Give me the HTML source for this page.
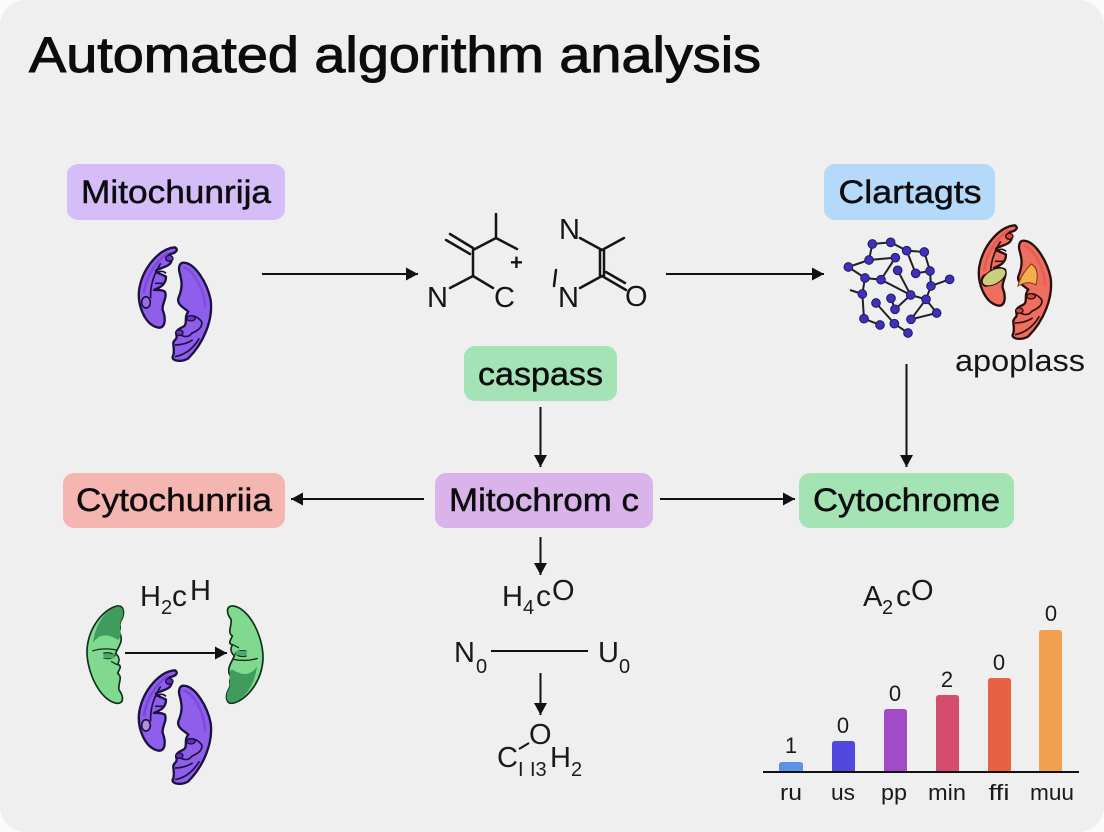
<!DOCTYPE html>
<html lang="en"><head><meta charset="utf-8"><title>Automated algorithm analysis</title>
<style>
html,body{margin:0;padding:0;width:1104px;height:832px;overflow:hidden;background:#fbfbfb}
svg{display:block}
text{font-family:"Liberation Sans",sans-serif;fill:#0c0c0f}
.b{font-size:32px;text-anchor:middle;stroke:#0c0c0f;stroke-width:.45px}
.f{font-size:29px;fill:#1a1a1a}
.c{font-size:30px;fill:#1a1a1a}
.s{font-size:20px;fill:#1a1a1a}
.v{font-size:22px;text-anchor:middle;fill:#1a1a1a}
.l{font-size:22px;text-anchor:middle;fill:#1a1a1a}
</style></head><body>
<svg width="1104" height="832" viewBox="0 0 1104 832" xmlns="http://www.w3.org/2000/svg">
<defs>
<marker id="a" viewBox="0 0 12 13" refX="12" refY="6.500" markerWidth="12" markerHeight="13" markerUnits="userSpaceOnUse" orient="auto"><path d="M0 0L12 6.500L0 13Z" fill="#111"/></marker>
<g id="mitoL" stroke-linejoin="round">
<path d="M165 52C120 55 70 110 58 175C50 225 75 285 115 293C137 295 138 265 128 240C125 220 142 205 135 185C125 178 110 180 102 180C120 172 138 165 138 140C125 132 110 130 108 122C120 112 152 112 155 90C150 82 135 85 150 72C165 70 178 60 165 52Z" fill="var(--m)" stroke="var(--k)" stroke-width="7"/>
<path d="M72 190C78 140 105 95 145 68" fill="none" stroke="var(--d)" stroke-width="8" opacity=".45"/>
<path d="M92 205C90 170 100 135 122 100M108 130Q125 118 138 130M105 160H132" fill="none" stroke="var(--k)" stroke-width="5"/>
<ellipse cx="78" cy="217" rx="13" ry="17" fill="var(--n)" stroke="var(--k)" stroke-width="5"/>
<ellipse cx="148" cy="85" rx="11" ry="9" fill="var(--d)" stroke="var(--k)" stroke-width="4"/>
<path d="M190 98C225 98 262 160 272 210C280 270 250 340 205 385C185 397 155 394 158 380C165 368 160 350 160 342C158 330 172 330 170 318C165 305 172 298 190 290C205 282 190 262 205 245C195 235 170 225 175 205C190 170 185 150 178 125C175 110 180 98 190 98Z" fill="var(--m)" stroke="var(--k)" stroke-width="7"/>
<path d="M190 112C225 122 254 185 256 235" fill="none" stroke="var(--d)" stroke-width="8" opacity=".4"/>
<path d="M200 262C215 250 235 262 245 275C250 295 225 305 215 310C205 325 190 320 175 312M165 345Q195 345 218 330M165 380Q210 372 238 325" fill="none" stroke="var(--k)" stroke-width="5"/>
<ellipse cx="213" cy="265" rx="13" ry="8" fill="var(--d)" stroke="var(--k)" stroke-width="4"/>
<ellipse cx="178" cy="308" rx="11" ry="8" fill="var(--d)" stroke="var(--k)" stroke-width="4"/>
</g>
<g id="green" stroke-linejoin="round">
<path d="M128 108C88 115 40 170 36 240C34 305 75 392 125 400C148 402 146 378 132 360C128 340 145 322 128 310C134 296 142 288 128 283C136 270 132 260 122 250C132 226 148 212 132 185C142 172 128 168 138 152C150 132 148 106 128 108Z" fill="#7fd98f" stroke="#10301a" stroke-width="5"/>
<path d="M128 110C92 118 62 160 54 218C78 185 105 195 130 210C146 190 128 172 138 152C150 132 146 108 128 110Z" fill="#3f9c5c"/>
<path d="M52 243Q85 232 125 240M85 250Q105 245 120 256Q110 270 85 264M128 285L108 274" fill="none" stroke="#10301a" stroke-width="4"/>
<path d="M85 252H118V265H85Z" fill="#4fa86a"/>
</g>
</defs>

<rect x="0" y="0" width="1104" height="832" rx="26" fill="#efefef"/>

<text x="29" y="72" textLength="732" lengthAdjust="spacingAndGlyphs" stroke="#0c0c0f" stroke-width="1" style="font-size:50px">Automated algorithm analysis</text>

<rect x="67" y="164" width="218" height="56" rx="11" fill="#d5bdf8"/>
<text class="b" x="176" y="203" textLength="190" lengthAdjust="spacingAndGlyphs">Mitochunrija</text>
<rect x="824" y="164" width="171" height="56" rx="11" fill="#b5daf9"/>
<text class="b" x="910" y="203" textLength="143" lengthAdjust="spacingAndGlyphs">Clartagts</text>
<rect x="464" y="346" width="153" height="55" rx="11" fill="#a4e3b6"/>
<text class="b" x="540.5" y="385" textLength="125" lengthAdjust="spacingAndGlyphs">caspass</text>
<rect x="63" y="473" width="222" height="55" rx="11" fill="#f5b6b1"/>
<text class="b" x="174" y="511" textLength="196" lengthAdjust="spacingAndGlyphs">Cytochunriia</text>
<rect x="435" y="473" width="218" height="55" rx="11" fill="#dab3eb"/>
<text class="b" x="544" y="511" textLength="190" lengthAdjust="spacingAndGlyphs">Mitochrom c</text>
<rect x="799" y="473" width="215" height="55" rx="11" fill="#a4e3b4"/>
<text class="b" x="906.5" y="511" textLength="187" lengthAdjust="spacingAndGlyphs">Cytochrome</text>

<!-- Mitochondria -->
<g style="--m:#8f5fec;--d:#6a35c9;--n:#9a6fe0;--k:#1c1140" transform="translate(120 230) scale(.3333)"><use href="#mitoL"/></g>
<g style="--m:#8f5fec;--d:#5f2cc0;--n:#b58fd8;--k:#1c1140" transform="translate(120 653) scale(.3333)"><use href="#mitoL"/></g>
<g style="--m:#ee6f60;--d:#d9483f;--n:#c9cf7c;--k:#2a1010" transform="translate(960 208) scale(.3333)"><use href="#mitoL"/></g>
<path d="M1031 264Q1040 268 1036 285Q1028 280 1018 286Q1020 276 1031 264Z" fill="#f5ad4e" stroke="#7a3a10" stroke-width="1"/>
<ellipse cx="994" cy="277" rx="13" ry="7" fill="#c9cf7c" stroke="#2a1010" stroke-width="1" transform="rotate(-30 994 277)"/>
<g transform="translate(75 570) scale(.3333)"><use href="#green"/></g>
<g transform="translate(275 739.300) scale(-.3333 -.3333)"><use href="#green"/></g>

<g stroke="#111" stroke-width="2" fill="none">
<line x1="262" y1="274" x2="418" y2="274" marker-end="url(#a)"/>
<line x1="666" y1="274" x2="824" y2="274" marker-end="url(#a)"/>
<line x1="906.500" y1="364" x2="906.500" y2="467" marker-end="url(#a)"/>
<line x1="540.500" y1="407" x2="540.500" y2="467" marker-end="url(#a)"/>
<line x1="424" y1="499" x2="291" y2="499" marker-end="url(#a)"/>
<line x1="660" y1="499" x2="795" y2="499" marker-end="url(#a)"/>
<line x1="540.500" y1="537" x2="540.500" y2="575" marker-end="url(#a)"/>
<line x1="540.500" y1="673" x2="540.500" y2="715" marker-end="url(#a)"/>
<line x1="125" y1="653" x2="227" y2="653" marker-end="url(#a)"/>
</g>
<line x1="491" y1="651" x2="588" y2="651" stroke="#111" stroke-width="2"/>

<!-- Chemical structures -->
<g stroke="#151515" stroke-width="2.500" fill="none" stroke-linecap="round">
<path d="M496 214V238M496 238L473 250M496 238L517 249M473 250V276M446 240L470 254M450 234L473 248M473 276L450 288M473 276L493 288"/>
<path d="M580 238L602 250M602 250L624 238M600 250V276M604 250V276M602 276L580 288M602 276L626 290M606 272L625 283M556 270L554 286"/>
</g>
<text x="427" y="307" style="font-size:29px;fill:#151515">N</text>
<text x="494" y="307" style="font-size:29px;fill:#151515">C</text>
<text x="510" y="270" style="font-size:22px;fill:#151515;font-weight:bold">+</text>
<text x="559" y="239" style="font-size:29px;fill:#151515">N</text>
<text x="558" y="307" style="font-size:29px;fill:#151515">N</text>
<text x="625" y="306" style="font-size:29px;fill:#151515">O</text>

<!-- Network -->
<g transform="translate(835 220) scale(.3333)">
<g stroke="#222" stroke-width="6" fill="none">
<path d="M112 72L167 67L215 92L268 96M112 72L102 120L181 113M40 141L102 120M40 141L90 174L138 179L181 113M90 174L82 222L87 296L135 315M45 210L82 222M138 179L227 225L188 151M215 92L242 160L285 153L268 96M285 153L288 198L344 178M288 198L273 238L227 225L180 268L168 235M273 238L228 298L305 279L273 238M123 249L178 311L219 339"/>
</g>
<g fill="#3e30b8" stroke="#1e1a60" stroke-width="3">
<circle cx="112" cy="72" r="13"/><circle cx="167" cy="67" r="13"/><circle cx="215" cy="92" r="13"/><circle cx="268" cy="96" r="13"/><circle cx="102" cy="120" r="13"/><circle cx="181" cy="113" r="13"/><circle cx="40" cy="141" r="13"/><circle cx="188" cy="151" r="13"/><circle cx="242" cy="160" r="13"/><circle cx="285" cy="153" r="13"/><circle cx="344" cy="178" r="13"/><circle cx="90" cy="174" r="13"/><circle cx="138" cy="179" r="13"/><circle cx="288" cy="198" r="13"/><circle cx="82" cy="222" r="13"/><circle cx="227" cy="225" r="13"/><circle cx="273" cy="238" r="13"/><circle cx="168" cy="235" r="13"/><circle cx="123" cy="249" r="13"/><circle cx="180" cy="268" r="13"/><circle cx="305" cy="279" r="13"/><circle cx="228" cy="298" r="13"/><circle cx="87" cy="296" r="13"/><circle cx="135" cy="315" r="13"/><circle cx="178" cy="311" r="13"/><circle cx="219" cy="339" r="13"/>
</g></g>
<text x="955" y="371" style="font-size:31px;fill:#151515" textLength="130" lengthAdjust="spacingAndGlyphs">apoplass</text>

<!-- Formulae -->
<text class="f" x="140" y="606">H</text><text class="s" x="161" y="614">2</text><text class="c" x="172" y="606">c</text><text class="f" x="190" y="600">H</text>
<text class="f" x="502" y="606">H</text><text class="s" x="523" y="614">4</text><text class="c" x="536" y="606">c</text><text class="f" x="552" y="600">O</text>
<text class="f" x="454" y="662">N</text><text class="s" x="476" y="673">0</text>
<text class="f" x="598" y="662">U</text><text class="s" x="619" y="673">0</text>
<text class="f" x="529" y="744">O</text><path d="M519 749L529 743" stroke="#151515" stroke-width="2"/>
<text class="f" x="497" y="767">C</text><text class="s" x="518" y="776">I</text><text class="s" x="530" y="776">I3</text><text class="f" x="550" y="767">H</text><text class="s" x="571" y="776">2</text>
<text class="f" x="863" y="606">A</text><text class="s" x="882" y="614">2</text><text class="c" x="896" y="606">c</text><text class="f" x="911" y="600">O</text>

<!-- Bars -->
<path d="M779 772V765q0-3 3-3h18q3 0 3 3V772Z" fill="#5b93e6"/>
<path d="M832 772V744q0-3 3-3h17q3 0 3 3V772Z" fill="#5248e0"/>
<path d="M884 772V712q0-3 3-3h17q3 0 3 3V772Z" fill="#a04cc6"/>
<path d="M936 772V698q0-3 3-3h17q3 0 3 3V772Z" fill="#d44d6e"/>
<path d="M988 772V681q0-3 3-3h17q3 0 3 3V772Z" fill="#e96145"/>
<path d="M1039 772V633q0-3 3-3h17q3 0 3 3V772Z" fill="#f0a04e"/>
<line x1="763" y1="772" x2="1079" y2="772" stroke="#111" stroke-width="2"/>
<text class="v" x="791" y="753">1</text><text class="v" x="843" y="733">0</text><text class="v" x="895" y="701">0</text><text class="v" x="947" y="687">2</text><text class="v" x="999" y="670">0</text><text class="v" x="1051" y="621">0</text>
<text class="l" x="791" y="800" textLength="22" lengthAdjust="spacingAndGlyphs">ru</text><text class="l" x="843" y="800" textLength="24" lengthAdjust="spacingAndGlyphs">us</text><text class="l" x="894" y="800" textLength="26" lengthAdjust="spacingAndGlyphs">pp</text><text class="l" x="947" y="800" textLength="38" lengthAdjust="spacingAndGlyphs">min</text><text class="l" x="999" y="800" textLength="21" lengthAdjust="spacingAndGlyphs">ffi</text><text class="l" x="1052" y="800" textLength="44" lengthAdjust="spacingAndGlyphs">muu</text>
</svg>
</body></html>
